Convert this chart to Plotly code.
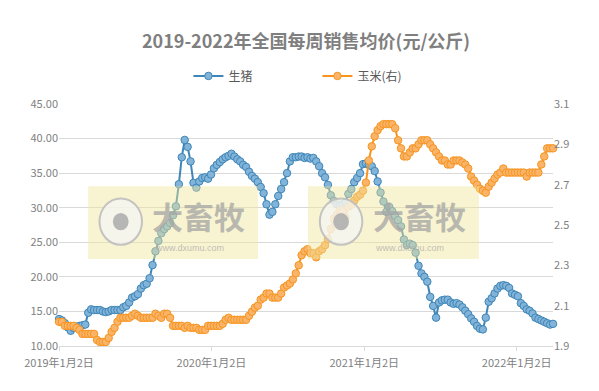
import pandas as pd
import plotly.graph_objects as go

start_date = "2019-01-02"
n_weeks = 170

pig = [13.9, 13.7, 13.3, 12.7, 12.2, 12.6, 12.8, 12.9, 13.0, 13.1,
       14.8, 15.3, 15.2, 15.2, 15.2, 15.0, 14.9, 15.0, 15.2, 15.2,
       15.2, 15.2, 15.6, 15.8, 16.3, 17.0, 17.2, 17.5, 18.3, 18.8,
       19.0, 19.8, 21.7, 23.7, 25.2, 26.3, 26.9, 27.3, 27.8, 28.9,
       30.2, 33.4, 37.3, 39.8, 38.8, 36.7, 33.6, 32.9, 33.8, 34.3,
       34.4, 34.2, 34.8, 35.7, 36.2, 36.6, 37.0, 37.3, 37.5, 37.8,
       37.4, 37.0, 36.7, 36.2, 35.9, 35.2, 34.6, 34.2, 33.7, 33.0,
       32.1, 30.5, 29.0, 29.4, 30.5, 31.7, 32.7, 33.7, 35.0, 36.7,
       37.3, 37.3, 37.4, 37.4, 37.2, 37.3, 37.1, 37.2, 36.7, 36.0,
       35.0, 34.4, 33.3, 31.8, 31.0, 30.5, 30.3, 30.5, 30.8, 32.0,
       32.7, 33.7, 34.3, 35.0, 36.3, 36.4, 36.2, 36.0, 35.3, 33.8,
       32.2, 30.9, 29.4, 30.1, 29.5, 28.8, 28.2, 27.3, 25.4, 24.6,
       24.8, 24.6, 23.5, 21.6, 20.5, 20.0, 19.3, 17.1, 15.8, 14.1,
       16.3, 16.6, 16.7, 16.7, 16.3, 16.1, 16.2, 16.0, 15.6, 15.1,
       14.6, 14.0, 13.5, 12.9, 12.5, 12.4, 14.1, 16.4, 16.9, 17.6,
       18.3, 18.7, 18.8, 18.7, 18.4, 17.6, 17.4, 17.2, 16.2, 15.8,
       15.3, 15.1, 14.7, 14.1, 13.9, 13.7, 13.5, 13.3, 13.1, 13.2]

corn = [2.02, 2.02, 2.00, 2.00, 2.00, 2.00, 1.99, 1.98, 1.96, 1.96,
        1.96, 1.96, 1.96, 1.93, 1.92, 1.92, 1.92, 1.94, 1.97, 1.99,
        2.02, 2.04, 2.04, 2.04, 2.04, 2.05, 2.06, 2.05, 2.04, 2.04,
        2.04, 2.04, 2.04, 2.06, 2.05, 2.04, 2.06, 2.06, 2.04, 2.00,
        2.00, 2.00, 2.00, 1.99, 2.00, 1.99, 1.99, 1.99, 1.98, 1.98,
        1.98, 2.00, 2.00, 2.00, 2.00, 2.00, 2.01, 2.03, 2.04, 2.03,
        2.03, 2.03, 2.03, 2.03, 2.03, 2.05, 2.07, 2.09, 2.10, 2.13,
        2.14, 2.16, 2.16, 2.14, 2.14, 2.14, 2.16, 2.19, 2.20, 2.21,
        2.23, 2.26, 2.30, 2.35, 2.37, 2.38, 2.36, 2.36, 2.34, 2.37,
        2.38, 2.40, 2.43, 2.48, 2.53, 2.55, 2.57, 2.57, 2.54, 2.59,
        2.60, 2.62, 2.64, 2.65, 2.67, 2.71, 2.82, 2.89, 2.94, 2.97,
        2.99, 3.00, 3.00, 3.00, 3.00, 2.98, 2.92, 2.88, 2.84, 2.84,
        2.86, 2.88, 2.88, 2.90, 2.92, 2.92, 2.92, 2.90, 2.88, 2.86,
        2.84, 2.82, 2.82, 2.80, 2.80, 2.82, 2.82, 2.82, 2.81, 2.80,
        2.78, 2.74, 2.72, 2.70, 2.68, 2.67, 2.66, 2.69, 2.71, 2.73,
        2.75, 2.76, 2.78, 2.76, 2.76, 2.76, 2.76, 2.76, 2.76, 2.76,
        2.74, 2.76, 2.76, 2.76, 2.76, 2.80, 2.84, 2.88, 2.88, 2.88]

tick_dates = ["2019-01-02", "2020-01-02", "2021-01-02", "2022-01-02"]
tick_labels = ["2019年1月2日", "2020年1月2日", "2021年1月2日", "2022年1月2日"]
left_ticks = [10, 15, 20, 25, 30, 35, 40, 45]
right_ticks = [1.9, 2.1, 2.3, 2.5, 2.7, 2.9, 3.1]

dates = pd.date_range(start_date, periods=n_weeks, freq="7D")

FONT = "Noto Sans CJK SC"
GRAY = "#7f7f7f"

fig = go.Figure()
fig.add_trace(go.Scatter(
    x=dates, y=pig, name="生猪", mode="lines+markers",
    line=dict(color="#3e86b8", width=2),
    marker=dict(size=7.5, color="#82b3d8", line=dict(color="#3e86b8", width=1)),
    cliponaxis=False,
))
fig.add_trace(go.Scatter(
    x=dates, y=corn, name="玉米(右)", mode="lines+markers", yaxis="y2",
    line=dict(color="#f7941d", width=2),
    marker=dict(size=7.5, color="#fab46a", line=dict(color="#f7941d", width=1)),
    cliponaxis=False,
))

# watermark boxes
shapes = []
annos = []
for (x0, x1, cx) in [(0.059, 0.403, 0.125), (0.504, 0.85, 0.571)]:
    shapes.append(dict(type="rect", xref="paper", yref="paper", x0=x0, x1=x1,
                       y0=0.36, y1=0.66, fillcolor="rgba(240,228,150,0.45)",
                       line=dict(width=0), layer="above"))
    shapes.append(dict(type="circle", xref="paper", yref="paper",
                       x0=cx - 0.043, x1=cx + 0.043, y0=0.418, y1=0.61,
                       fillcolor="rgba(245,245,245,0.75)",
                       line=dict(color="rgba(190,190,190,0.9)", width=2), layer="above"))
    shapes.append(dict(type="circle", xref="paper", yref="paper",
                       x0=cx - 0.016, x1=cx + 0.016, y0=0.478, y1=0.55,
                       fillcolor="rgba(175,175,175,0.9)", line=dict(width=0), layer="above"))
    annos.append(dict(xref="paper", yref="paper", x=cx + 0.06, y=0.54, xanchor="left",
                      yanchor="middle", showarrow=False, text="<b>大畜牧</b>",
                      font=dict(family=FONT, size=31, color="rgba(165,165,165,0.75)")))
    annos.append(dict(xref="paper", yref="paper", x=cx + 0.065, y=0.405, xanchor="left",
                      yanchor="middle", showarrow=False, text="www.dxumu.com",
                      font=dict(family="Arial", size=9, color="rgba(175,175,175,0.8)")))

fig.update_layout(
    width=599, height=391,
    margin=dict(l=59, r=46, t=104, b=45),
    paper_bgcolor="white", plot_bgcolor="white",
    font=dict(family=FONT, color=GRAY, size=11),
    title=dict(text="<b>2019-2022年全国每周销售均价(元/公斤)</b>",
               x=0.511, xanchor="center", xref="container",
               y=1 - 42 / 391, yanchor="middle", yref="container",
               font=dict(family=FONT, size=18, color=GRAY)),
    legend=dict(orientation="h", x=0.262, xanchor="left", y=1.116, yanchor="middle",
                font=dict(family=FONT, size=12, color="#595959"),
                entrywidth=84, itemwidth=30, bgcolor="rgba(0,0,0,0)"),
    xaxis=dict(type="date", range=[dates[0], dates[-1]],
               tickvals=tick_dates, ticktext=tick_labels,
               showgrid=False, showline=True, linecolor="#d9d9d9", linewidth=1,
               ticks="outside", ticklen=4, tickcolor="#d9d9d9", ticklabelstandoff=3,
               tickfont=dict(family=FONT, size=11, color=GRAY), zeroline=False),
    yaxis=dict(range=[10, 45], tickvals=left_ticks, tickformat=".2f",
               showgrid=True, gridcolor="#d9d9d9", gridwidth=1, zeroline=False,
               showline=False, ticks="", tickfont=dict(family=FONT, size=11, color=GRAY)),
    yaxis2=dict(range=[1.9, 3.1], tickvals=right_ticks, tickformat=".1f",
                overlaying="y", side="right", showgrid=False, zeroline=False,
                showline=False, ticks="", tickfont=dict(family=FONT, size=11, color=GRAY)),
    shapes=shapes, annotations=annos,
)

fig.write_html("out.html")
